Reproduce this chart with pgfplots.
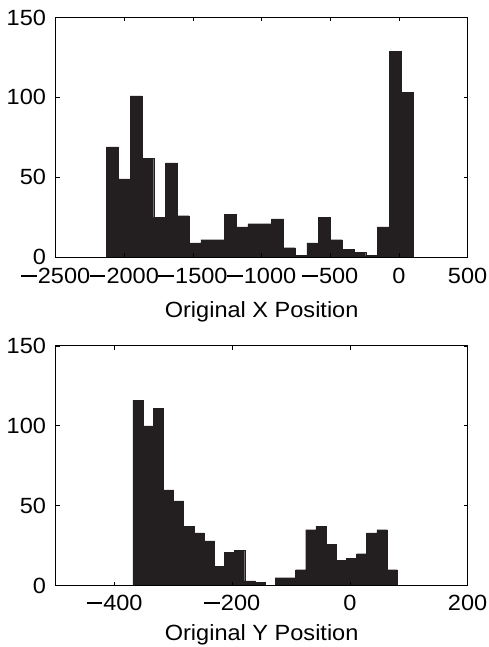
\documentclass[border=0pt]{standalone}
\usepackage{fontspec}
\setmainfont[FakeStretch=1.07]{Liberation Sans}
\usepackage{pgfplots}
\pgfplotsset{compat=1.18}
\definecolor{barfill}{RGB}{35,31,32}
\newcommand\mm{\rule[0.30em]{0.70em}{0.085em}\hspace{0.06em}}
\begin{document}
\fontsize{22}{24}\selectfont
\begin{tikzpicture}[x=1pt,y=1pt]
\useasboundingbox (0,0) rectangle (488,647);
\pgfplotsset{
  every axis/.append style={
    scale only axis,
    width=411.9pt, height=239.8pt,
    axis on top,
    ymin=0, ymax=150, ytick={0,50,100,150},
    tick align=inside,
    major tick length=4pt,
    axis line style={line width=0.9pt},
    every tick/.style={line width=0.7pt, black},
    tick label style={font=\fontsize{22}{24}\selectfont},
    label style={font=\fontsize{22}{24}\selectfont},
    yticklabel style={anchor=east, inner sep=0pt, xshift=-9.5pt},
    yticklabels={0,50,100,150},
  }
}
\begin{axis}[
  at={(55.7pt,389.7pt)}, anchor=south west,
  xmin=-2500, xmax=500,
  xtick={-2500,-2000,-1500,-1000,-500,0,500},
  xticklabels={\mm2500,\mm2000,\mm1500,\mm1000,\mm500,0,500},
  xticklabel style={anchor=north, inner sep=0pt, yshift=-11pt},
  xlabel={Original X Position},
  xlabel style={at={(axis description cs:0.5,0)}, anchor=north, inner sep=0pt, yshift=-44.4pt},
]
\addplot[ybar interval, fill=barfill, draw=barfill, line width=0.4pt] coordinates {
(-2129,69) (-2043.2,49) (-1957.5,101) (-1871.7,62) (-1785.9,25) (-1700.2,59) (-1614.4,26) (-1528.6,9) (-1442.8,11) (-1357.1,11) (-1271.3,27) (-1185.5,19) (-1099.8,21) (-1014.0,21) (-928.2,24) (-842.5,6) (-756.7,1) (-670.9,9) (-585.1,25) (-499.4,11) (-413.6,5) (-327.8,3) (-242.1,1) (-156.3,19) (-70.5,129) (15.2,103) (101.0,103)
};
\end{axis}
\begin{axis}[
  at={(55.7pt,61.3pt)}, anchor=south west,
  xmin=-500, xmax=200,
  xtick={-400,-200,0,200},
  xticklabels={\mm400,\mm200,0,200},
  xticklabel style={anchor=north, inner sep=0pt, yshift=-9.5pt},
  xlabel={Original Y Position},
  xlabel style={at={(axis description cs:0.5,0)}, anchor=north, inner sep=0pt, yshift=-38.3pt},
]
\addplot[ybar interval, fill=barfill, draw=barfill, line width=0.4pt] coordinates {
(-368.9,116) (-351.6,100) (-334.3,111) (-317.1,60) (-299.8,53) (-282.5,37) (-265.2,33) (-247.9,28) (-230.7,12) (-213.4,21) (-196.1,22) (-178.8,3) (-161.5,2) (-144.3,0) (-127.0,5) (-109.7,5) (-92.4,10) (-75.1,35) (-57.9,37) (-40.6,26) (-23.3,16) (-6.0,17) (11.3,20) (28.5,33) (45.8,35) (63.1,10) (80.4,10)
};
\end{axis}
\end{tikzpicture}
\end{document}
